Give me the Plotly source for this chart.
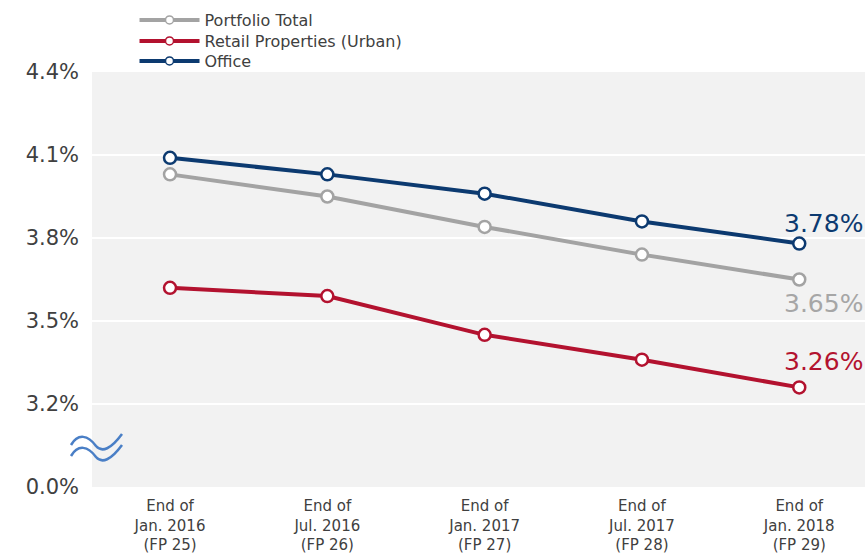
import plotly.graph_objects as go

categories = ["End of<br>Jan. 2016<br>(FP 25)", "End of<br>Jul. 2016<br>(FP 26)",
              "End of<br>Jan. 2017<br>(FP 27)", "End of<br>Jul. 2017<br>(FP 28)",
              "End of<br>Jan. 2018<br>(FP 29)"]
portfolio_total = [4.03, 3.95, 3.84, 3.74, 3.65]
retail_urban = [3.62, 3.59, 3.45, 3.36, 3.26]
office = [4.09, 4.03, 3.96, 3.86, 3.78]
y_tickvals = [2.9, 3.2, 3.5, 3.8, 4.1, 4.4]
y_ticktext = ["0.0%", "3.2%", "3.5%", "3.8%", "4.1%", "4.4%"]

W, H = 865, 557
ML, MR, MT, MB = 92, 0, 72, 70
PW, PH = W - ML - MR, H - MT - MB

C_GRAY = "#a3a3a3"
C_RED = "#b3122f"
C_BLUE = "#0c3a70"
FONT = "DejaVu Sans"

series = [
    ("Portfolio Total", portfolio_total, C_GRAY, "legend", 20),
    ("Retail Properties (Urban)", retail_urban, C_RED, "legend2", 41),
    ("Office", office, C_BLUE, "legend3", 61),
]

fig = go.Figure()
for name, vals, col, lg, _ in series:
    fig.add_trace(go.Scatter(
        x=list(range(len(categories))), y=vals, name=name, mode="lines+markers",
        line=dict(color=col, width=4), showlegend=False,
        marker=dict(symbol="circle", size=12, color="white", line=dict(color=col, width=2.5)),
    ))
    # legend-only entry with smaller marker
    fig.add_trace(go.Scatter(
        x=[None], y=[None], name=name, mode="lines+markers", legend=lg,
        line=dict(color=col, width=4), showlegend=True,
        marker=dict(symbol="circle", size=8, color="white", line=dict(color=col, width=1.5)),
    ))

# end labels
label_specs = [(office, C_BLUE, 24, 20), (portfolio_total, "#a6a6a6", 24, -24), (retail_urban, C_RED, 24, 26)]
annotations = []
for vals, col, xs, ys in label_specs:
    annotations.append(dict(x=len(categories) - 1, y=vals[-1], xref="x", yref="y",
                            text=f"{vals[-1]:.2f}%", showarrow=False, xshift=xs, yshift=ys,
                            font=dict(family=FONT, size=25, color=col)))

def px2paper(x, y):
    return (x - ML) / PW, (H - MB - y) / PH

def wave(dy):
    pts = [(71, 445), (78, 433), (88, 435), (96, 446), (102, 453), (111, 449), (122, 434)]
    p = [px2paper(x, y + dy) for x, y in pts]
    s = f"M {p[0][0]},{p[0][1]} C {p[1][0]},{p[1][1]} {p[2][0]},{p[2][1]} {p[3][0]},{p[3][1]} "
    s += f"C {p[4][0]},{p[4][1]} {p[5][0]},{p[5][1]} {p[6][0]},{p[6][1]}"
    return s

shapes = [dict(type="path", xref="paper", yref="paper", path=wave(d),
               line=dict(color="#4a7fc6", width=2.5)) for d in (0, 11)]

legend_common = dict(xanchor="left", yanchor="middle", orientation="v",
                     font=dict(family=FONT, size=16, color="#404040"), bgcolor="rgba(0,0,0,0)",
                     itemwidth=60)
layout_legends = {}
for name, vals, col, lg, ypx in series:
    layout_legends[lg] = dict(x=0.055, y=(H - MB - ypx) / PH, **legend_common)

fig.update_layout(
    width=W, height=H,
    margin=dict(l=ML, r=MR, t=MT, b=MB, autoexpand=False),
    paper_bgcolor="white", plot_bgcolor="#f2f2f2",
    font=dict(family=FONT, color="#404040"),
    showlegend=True,
    annotations=annotations,
    shapes=shapes,
    xaxis=dict(tickvals=list(range(len(categories))), ticktext=categories,
               range=[-0.496, 4.418], showgrid=False, zeroline=False,
               tickfont=dict(family=FONT, size=15, color="#404040"), ticks="", showline=False,
               ticklabelstandoff=8),
    yaxis=dict(range=[2.9, 4.4], tickvals=y_tickvals, ticktext=y_ticktext,
               showgrid=True, gridcolor="white", gridwidth=2, zeroline=False,
               tickfont=dict(family=FONT, size=21, color="#404040"),
               ticks="", ticklabelstandoff=12, showline=False),
    **layout_legends,
)

fig.write_html("out.html")
